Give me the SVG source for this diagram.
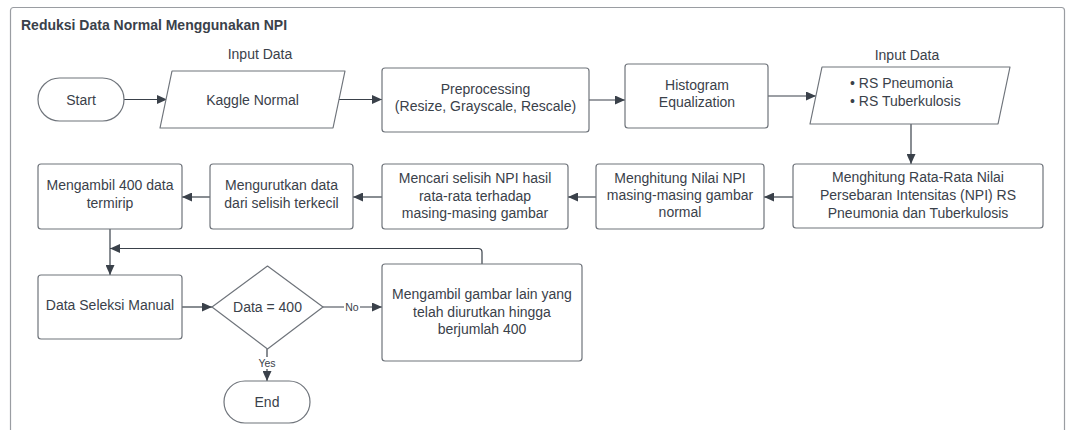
<svg xmlns="http://www.w3.org/2000/svg" width="1069" height="430" viewBox="0 0 1069 430">
<style>
.t{font-family:"Liberation Sans",Arial,sans-serif;font-size:14px;fill:#3a414a;text-anchor:middle}
.s{fill:#ffffff;stroke:#6f747b;stroke-width:1.2}
.c{fill:none;stroke:#3a414a;stroke-width:1.2}
.lbl{font-family:"Liberation Sans",Arial,sans-serif;font-size:10.5px;fill:#3a414a;text-anchor:middle}
</style>
<defs>
<marker id="ah" markerUnits="userSpaceOnUse" markerWidth="11" markerHeight="9" refX="10" refY="4.5" orient="auto">
<path d="M0,0 L10,4.5 L0,9 z" fill="#3a414a"/>
</marker>
</defs>
<rect width="1069" height="430" fill="#ffffff"/>
<g id="container">
<rect x="10.5" y="7.5" width="1054" height="450" rx="3" fill="#ffffff" stroke="#9a9da2" stroke-width="1.2"/>
<text x="21" y="30" style="font-family:'Liberation Sans',Arial,sans-serif;font-size:14px;font-weight:bold;fill:#3a414a">Reduksi Data Normal Menggunakan NPI</text>
</g>
<g id="connectors">
<line class="c" x1="124" y1="99.5" x2="167" y2="99.5" marker-end="url(#ah)"/>
<line class="c" x1="339" y1="99.5" x2="382" y2="99.5" marker-end="url(#ah)"/>
<line class="c" x1="589" y1="100" x2="625" y2="100" marker-end="url(#ah)"/>
<line class="c" x1="768" y1="96" x2="816" y2="96" marker-end="url(#ah)"/>
<line class="c" x1="911" y1="124" x2="911" y2="164" marker-end="url(#ah)"/>
<line class="c" x1="793" y1="197" x2="764" y2="197" marker-end="url(#ah)"/>
<line class="c" x1="596" y1="197" x2="568" y2="197" marker-end="url(#ah)"/>
<line class="c" x1="382" y1="197" x2="353" y2="197" marker-end="url(#ah)"/>
<line class="c" x1="210" y1="197" x2="182" y2="197" marker-end="url(#ah)"/>
<line class="c" x1="110" y1="229" x2="110" y2="275" marker-end="url(#ah)"/>
<path class="c" d="M482,264 L482,252 Q482,248.5 478,248.5 L110,248.5" marker-end="url(#ah)"/>
<line class="c" x1="182" y1="307" x2="212" y2="307" marker-end="url(#ah)"/>
<line class="c" x1="323" y1="307" x2="382" y2="307" marker-end="url(#ah)"/>
<rect x="344" y="301" width="16" height="12" fill="#ffffff"/>
<text class="lbl" x="352" y="311">No</text>
<line class="c" x1="267" y1="349" x2="267" y2="381" marker-end="url(#ah)"/>
<rect x="257" y="357" width="20" height="12" fill="#ffffff"/>
<text class="lbl" x="267" y="367">Yes</text>
</g>
<g id="start">
<rect class="s" x="38" y="78" width="86" height="43" rx="21.5"/>
<text class="t" x="81" y="104.5">Start</text>
</g>
<g id="input-kaggle">
<text class="t" x="260" y="59">Input Data</text>
<path class="s" d="M172,71 L345,71 L333,128 L160,128 Z" stroke-linejoin="round"/>
<text class="t" x="252.5" y="104.5">Kaggle Normal</text>
</g>
<g id="preprocessing">
<rect class="s" x="382" y="68" width="207" height="64" rx="3"/>
<text class="t" x="485.5" y="94">Preprocessing</text>
<text class="t" x="485.5" y="111">(Resize, Grayscale, Rescale)</text>
</g>
<g id="histogram">
<rect class="s" x="625" y="64" width="143" height="64" rx="3"/>
<text class="t" x="697" y="90">Histogram</text>
<text class="t" x="697" y="107">Equalization</text>
</g>
<g id="input-rs">
<text class="t" x="907" y="60">Input Data</text>
<path class="s" d="M822,67 L1010,67 L998,124 L810,124 Z" stroke-linejoin="round"/>
<text class="t" x="850" y="88" style="text-anchor:start">• RS Pneumonia</text>
<text class="t" x="850" y="106" style="text-anchor:start">• RS Tuberkulosis</text>
</g>
<g id="rata-rata">
<rect class="s" x="793" y="164" width="250" height="64" rx="3"/>
<text class="t" x="918" y="182">Menghitung Rata-Rata Nilai</text>
<text class="t" x="918" y="200">Persebaran Intensitas (NPI) RS</text>
<text class="t" x="918" y="218">Pneumonia dan Tuberkulosis</text>
</g>
<g id="nilai-npi">
<rect class="s" x="596" y="164" width="168" height="65" rx="3"/>
<text class="t" x="680" y="183">Menghitung Nilai NPI</text>
<text class="t" x="680" y="200">masing-masing gambar</text>
<text class="t" x="680" y="217">normal</text>
</g>
<g id="selisih">
<rect class="s" x="382" y="164" width="186" height="65" rx="3"/>
<text class="t" x="475" y="183">Mencari selisih NPI hasil</text>
<text class="t" x="475" y="201">rata-rata terhadap</text>
<text class="t" x="475" y="218">masing-masing gambar</text>
</g>
<g id="urutkan">
<rect class="s" x="210" y="164" width="143" height="65" rx="3"/>
<text class="t" x="281.5" y="190">Mengurutkan data</text>
<text class="t" x="281.5" y="208">dari selisih terkecil</text>
</g>
<g id="ambil-400">
<rect class="s" x="38" y="164" width="144" height="65" rx="3"/>
<text class="t" x="110" y="190">Mengambil 400 data</text>
<text class="t" x="110" y="208">termirip</text>
</g>
<g id="seleksi-manual">
<rect class="s" x="38" y="275" width="144" height="64" rx="3"/>
<text class="t" x="110" y="310">Data Seleksi Manual</text>
</g>
<g id="decision">
<path class="s" d="M267.5,266 L323,307 L267.5,349 L212,307 Z" stroke-linejoin="round"/>
<text class="t" x="267.5" y="312">Data = 400</text>
</g>
<g id="ambil-lain">
<rect class="s" x="382" y="264" width="200" height="97" rx="3"/>
<text class="t" x="482" y="299">Mengambil gambar lain yang</text>
<text class="t" x="482" y="317">telah diurutkan hingga</text>
<text class="t" x="482" y="334">berjumlah 400</text>
</g>
<g id="end">
<rect class="s" x="224" y="381" width="86" height="42" rx="21"/>
<text class="t" x="267" y="407">End</text>
</g>
</svg>
